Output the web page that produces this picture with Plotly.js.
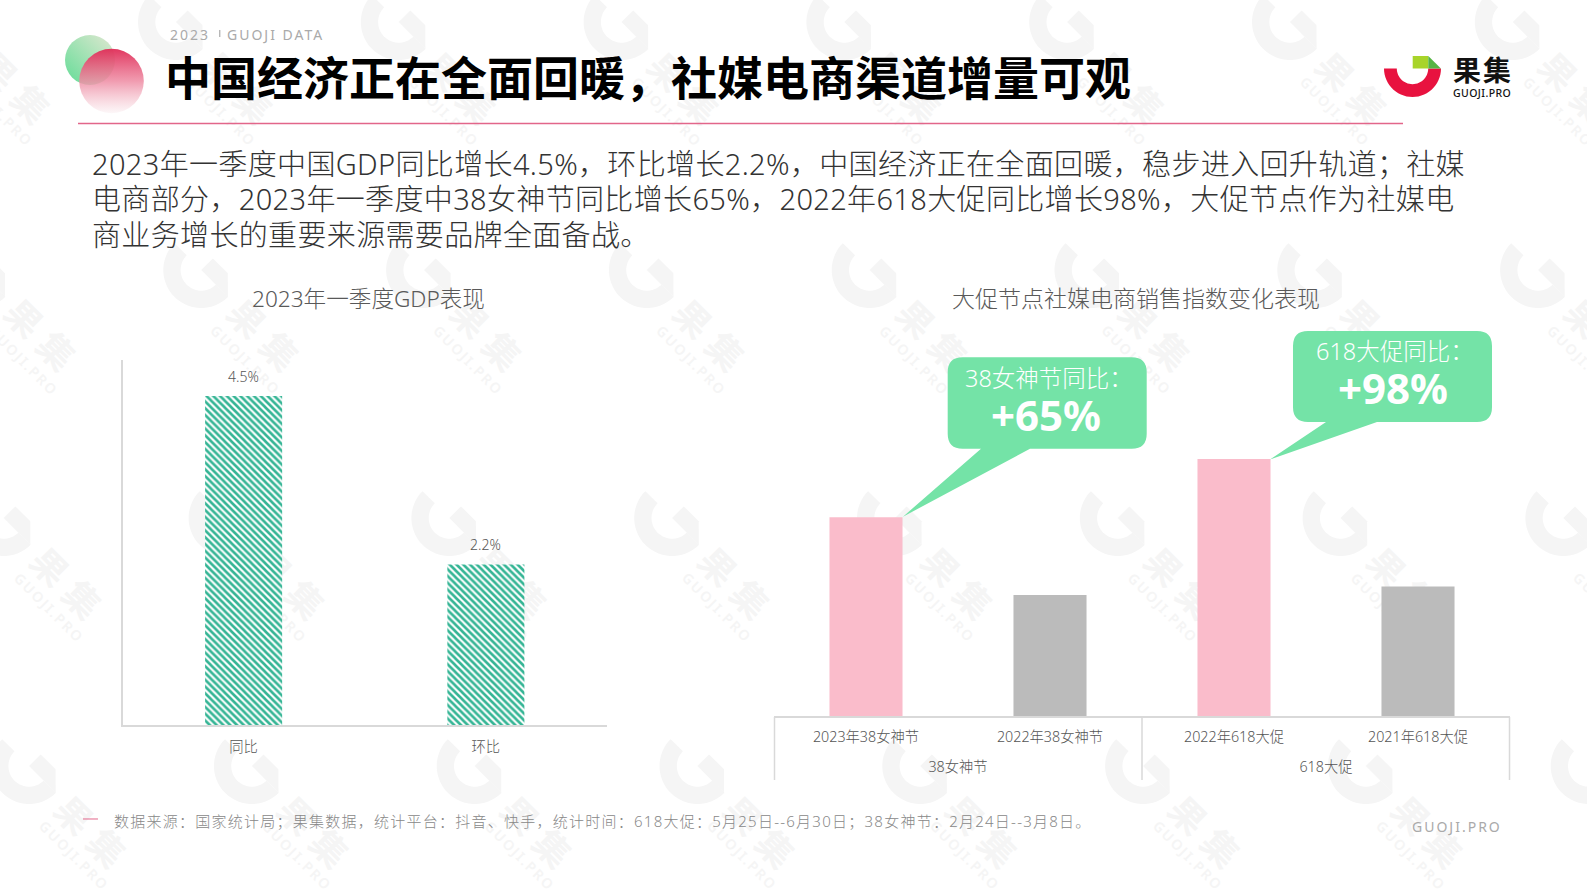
<!DOCTYPE html>
<html><head><meta charset="utf-8">
<script src="https://cdn.plot.ly/plotly-3.0.1.min.js"></script>
<style>html,body{margin:0;padding:0;background:#fff;overflow:hidden}
#wm,#chart{position:absolute;left:0;top:0;width:1587px;height:892px}#wm{z-index:0}#chart{z-index:1}</style>
</head><body><div id="wm"></div><div id="chart"></div>
<script>
// ---- data ----
const gdpCategories = ['同比', '环比'];
const gdpValues = [4.5, 2.2];
const gdpLabels = ['4.5%', '2.2%'];
const festivalGroups = ['38女神节', '38女神节', '618大促', '618大促'];
const festivalCategories = ['2023年38女神节', '2022年38女神节', '2022年618大促', '2021年618大促'];
const salesIndex = [164, 100, 212, 107];
const salesColors = ['#fabccb', '#bbbbbb', '#fabccb', '#bbbbbb'];
const bodyLines = [
  '2023年一季度中国GDP同比增长4.5%，环比增长2.2%，中国经济正在全面回暖，稳步进入回升轨道；社媒',
  '电商部分，2023年一季度中38女神节同比增长65%，2022年618大促同比增长98%，大促节点作为社媒电',
  '商业务增长的重要来源需要品牌全面备战。'
];
const footnote = '数据来源：国家统计局；果集数据，统计平台：抖音、快手，统计时间：618大促：5月25日--6月30日；38女神节：2月24日--3月8日。';

// ---- helpers (page pixels to paper coordinates) ----
const W = 1587, H = 892;
const X = p => +(p / W).toFixed(5), Y = p => +(1 - p / H).toFixed(5);
const poly = pts => 'M' + pts.map(p => X(p[0]) + ' ' + Y(p[1])).join(' L') + ' Z';
const pathShape = (pts, color, layer) => ({type:'path', xref:'paper', yref:'paper', path:poly(pts), fillcolor:color, line:{width:0}, layer:layer||'above'});
const CJK = '"Noto Sans","Noto Sans CJK SC",sans-serif';
const spacing = {};
const note = (list, text, x, y, size, color, o) => {
  o = o || {};
  const i = list.length;
  if (o.ls) spacing[list === wmNotes ? 'w' + i : 'c' + i] = o.ls;
  list.push({xref:'paper', yref:'paper', x:X(x), y:Y(y), text:text, showarrow:false,
    xanchor:o.anchor||'left', yanchor:'middle', align:o.anchor||'left', textangle:o.angle||0,
    borderpad:0, borderwidth:0,
    font:{family:o.family||CJK, size:size, color:color, weight:o.weight||300}});
};
const ringPoints = (cx, cy, R, r, start, end) => {
  const pts = [];
  for (let a = start; a <= end + 1e-6; a += 6) pts.push([cx + R*Math.cos(a*Math.PI/180), cy + R*Math.sin(a*Math.PI/180)]);
  for (let a = end; a >= start - 1e-6; a -= 6) pts.push([cx + r*Math.cos(a*Math.PI/180), cy + r*Math.sin(a*Math.PI/180)]);
  return pts;
};
const rounded = (x0, y0, x1, y1, r, tail, color) => {
  const s = (x,y) => X(x) + ' ' + Y(y);
  const path = 'M' + s(x0+r,y0) + ' L' + s(x1-r,y0) + ' Q' + s(x1,y0) + ' ' + s(x1,y0+r) +
    ' L' + s(x1,y1-r) + ' Q' + s(x1,y1) + ' ' + s(x1-r,y1) +
    ' L' + s(tail[2][0],tail[2][1]) + ' L' + s(tail[1][0],tail[1][1]) + ' L' + s(tail[0][0],tail[0][1]) +
    ' L' + s(x0+r,y1) + ' Q' + s(x0,y1) + ' ' + s(x0,y1-r) + ' L' + s(x0,y0+r) + ' Q' + s(x0,y0) + ' ' + s(x0+r,y0) + ' Z';
  return {type:'path', xref:'paper', yref:'paper', path:path, fillcolor:color, line:{width:0}, layer:'above'};
};

// ---- watermark ----
const wmNotes = [], wmShapes = [];
const WM = '#f5f5f5';
function watermark(cx, cy) {
  const k = 1.333, c = Math.SQRT1_2;
  const rot = (x, y) => [cx + k*(x*c - y*c), cy + k*(x*c + y*c)];
  wmShapes.push(pathShape(ringPoints(cx, cy, 38, 20.7, 45, 225), WM, 'below'));
  wmShapes.push(pathShape([rot(0,-12.3), rot(15.8,-12.3), rot(28.2,0), rot(15.8,0), rot(0,0)], WM, 'below'));
  note(wmNotes, '果集', cx + 65, cy + 69, 36, WM, {anchor:'center', angle:45, weight:700, ls:10});
  note(wmNotes, 'GUOJI.PRO', cx + 45, cy + 90, 14, WM, {anchor:'center', angle:45, weight:600, ls:2});
}
for (let row = -1; row < 4; row++) for (let col = -1; col < 8; col++) {
  const cx = 176 + col*222.8 + row*25.3, cy = 22 + row*248;
  if (cx > -70 && cx < W + 60 && cy < H + 30) watermark(cx, cy);
}

// ---- slide furniture ----
const notes = [], shapes = [];
const LOGO_RED = '#e8123f';
const axisLine = '#d9d9d9';
shapes.push({type:'line', xref:'paper', yref:'paper', x0:X(78), x1:X(1403), y0:Y(123.5), y1:Y(123.5), line:{color:'#e2668a', width:1.5}});
shapes.push({type:'line', xref:'paper', yref:'paper', x0:X(83), x1:X(98), y0:Y(819), y1:Y(819), line:{color:'#e2668a', width:1}});
shapes.push({type:'line', xref:'paper', yref:'paper', x0:X(219.8), x1:X(219.8), y0:Y(30), y1:Y(37), line:{color:'#999999', width:1}});
[774.5, 1142, 1509.5].forEach(px => shapes.push({type:'line', xref:'paper', yref:'paper', x0:X(px), x1:X(px), y0:Y(717), y1:Y(780), line:{color:axisLine, width:1.5}}));
shapes.push(pathShape(ringPoints(1412.5, 68.5, 28.5, 15.7, 0, 180), LOGO_RED));
shapes.push(pathShape([[1412.7,56],[1428.3,56],[1428.3,68.5],[1412.7,68.5]], '#a8d42a'));
shapes.push(pathShape([[1428.3,56],[1440.9,68.5],[1428.3,68.5]], '#55b544'));
const calloutColor = '#74e3a7';
shapes.push(rounded(947.7,357.3,1146.7,448.7,15,[[981,448.7],[903,516.7],[1030,448.7]],calloutColor));
shapes.push(rounded(1293,331,1492,422,15,[[1326,422],[1270,459.5],[1377,422]],calloutColor));

note(notes, '2023', 170, 34.5, 14, '#aaaaaa', {ls:2, weight:400});
note(notes, 'GUOJI DATA', 227.5, 34.5, 14, '#aaaaaa', {ls:2, weight:400});
note(notes, '中国经济正在全面回暖，社媒电商渠道增量可观', 165, 75, 46, '#000000', {family:'"Noto Sans CJK SC",sans-serif', weight:700});
note(notes, '果集', 1453, 69, 28, '#111111', {family:'"Noto Sans CJK SC",sans-serif', weight:700, ls:2});
note(notes, 'GUOJI.PRO', 1453, 92.5, 10.5, '#111111', {weight:500, ls:0.4});
bodyLines.forEach((t, i) => note(notes, t, 92, 163.5 + i*35.5, 29, '#333333', {ls:0.35}));
note(notes, '2023年一季度GDP表现', 369, 298.5, 22.6, '#595959', {anchor:'center'});
note(notes, '大促节点社媒电商销售指数变化表现', 1136, 298, 23, '#595959', {anchor:'center'});
note(notes, '38女神节同比：', 965, 378, 23.5, '#ffffff');
note(notes, '+65%', 1046, 414, 42, '#ffffff', {anchor:'center', weight:700});
note(notes, '618大促同比：', 1316, 350.5, 23.5, '#ffffff');
note(notes, '+98%', 1393, 387.5, 42, '#ffffff', {anchor:'center', weight:700});
note(notes, footnote, 114, 821.5, 15, '#888888', {ls:1.25});
note(notes, 'GUOJI.PRO', 1412, 826, 14, '#aaaaaa', {ls:2, weight:400});

// value labels bound to the data axes
gdpValues.forEach((v, i) => notes.push({xref:'x', yref:'y', x:gdpCategories[i], y:v, text:gdpLabels[i], showarrow:false,
  yanchor:'bottom', yshift:9, borderpad:0, font:{family:CJK, size:14, color:'#555555', weight:300}}));

const tickFont = {family:CJK, size:14.3, color:'#555555', weight:300};
const traces = [
  {type:'bar', x:gdpCategories, y:gdpValues, xaxis:'x', yaxis:'y', width:0.318, hoverinfo:'x+y',
   marker:{color:'#ffffff', line:{width:0}, pattern:{shape:'\\', fgcolor:'#35b595', bgcolor:'#ffffff', size:4.8, solidity:0.55}}},
  {type:'bar', x:[festivalGroups, festivalCategories], y:salesIndex, xaxis:'x2', yaxis:'y2', width:0.397, hoverinfo:'y',
   marker:{color:salesColors, line:{width:0}}}
];
const layout = {
  width:W, height:H, margin:{l:0,r:0,t:0,b:0}, paper_bgcolor:'rgba(0,0,0,0)', plot_bgcolor:'rgba(0,0,0,0)',
  showlegend:false,
  xaxis:{domain:[X(122.5),X(607)], type:'category', anchor:'y', showline:true, linecolor:axisLine, linewidth:2,
    ticks:'outside', ticklen:7, tickcolor:'rgba(0,0,0,0)', tickfont:tickFont, showgrid:false, automargin:false, fixedrange:true},
  yaxis:{domain:[Y(725.5),Y(359.5)], range:[0,5], anchor:'x', showline:true, linecolor:axisLine, linewidth:2,
    showticklabels:false, ticks:'', showgrid:false, zeroline:false, automargin:false, fixedrange:true},
  xaxis2:{domain:[X(774),X(1510)], type:'multicategory', anchor:'y2', showline:true, linecolor:axisLine, linewidth:2,
    ticks:'outside', ticklen:4, tickcolor:'rgba(0,0,0,0)', tickfont:tickFont, showgrid:false, showdividers:false,
    automargin:false, fixedrange:true},
  yaxis2:{domain:[Y(716.5),Y(412.75)], range:[0,250], anchor:'x2', showline:false, showticklabels:false, ticks:'',
    showgrid:false, zeroline:false, automargin:false, fixedrange:true},
  shapes:shapes, annotations:notes,
  images:[{xref:'paper', yref:'paper', x:X(60), y:Y(30), sizex:90/W, sizey:90/H, xanchor:'left', yanchor:'top', sizing:'stretch', layer:'above',
    source:'data:image/svg+xml;utf8,' + encodeURIComponent(
     '<svg xmlns="http://www.w3.org/2000/svg" width="90" height="90" viewBox="0 0 90 90"><defs>'+
     '<linearGradient id="g" x1="0" y1="1" x2="1" y2="0"><stop offset="0" stop-color="#62dc96"/><stop offset="1" stop-color="#e2e8d2"/></linearGradient>'+
     '<linearGradient id="r" x1="0" y1="0" x2="0" y2="1"><stop offset="0.02" stop-color="#e0305a" stop-opacity="0.95"/><stop offset="0.5" stop-color="#ee8aa2" stop-opacity="0.85"/><stop offset="1" stop-color="#fbf2f4" stop-opacity="0.6"/></linearGradient></defs>'+
     '<circle cx="30" cy="30" r="25" fill="url(#g)"/><circle cx="51.5" cy="51" r="32.3" fill="url(#r)"/></svg>')}]
};
const wmLayout = {width:W, height:H, margin:{l:0,r:0,t:0,b:0}, paper_bgcolor:'#ffffff', plot_bgcolor:'#ffffff', showlegend:false,
  xaxis:{visible:false}, yaxis:{visible:false}, shapes:wmShapes, annotations:wmNotes};
const applySpacing = (id, prefix) => document.querySelectorAll('#' + id + ' .annotation').forEach(g => {
  const ls = spacing[prefix + g.getAttribute('data-index')];
  const t = g.querySelector('.annotation-text');
  if (ls && t) t.style.letterSpacing = ls + 'px';
});
const nudge = (sel, dy) => document.querySelectorAll(sel).forEach(t => {
  t.setAttribute('transform', 'translate(0,' + dy + ') ' + (t.getAttribute('transform') || ''));
});
Plotly.newPlot('wm', [], wmLayout, {staticPlot:true}).then(() => applySpacing('wm', 'w'));
Plotly.newPlot('chart', traces, layout, {displayModeBar:false}).then(() => {
  applySpacing('chart', 'c');
  // label rows of the two-level axis sit lower than plotly's default
  nudge('#chart .x2tick text', 6);
  nudge('#chart .x2tick2 text', 15);
});
</script></body></html>
